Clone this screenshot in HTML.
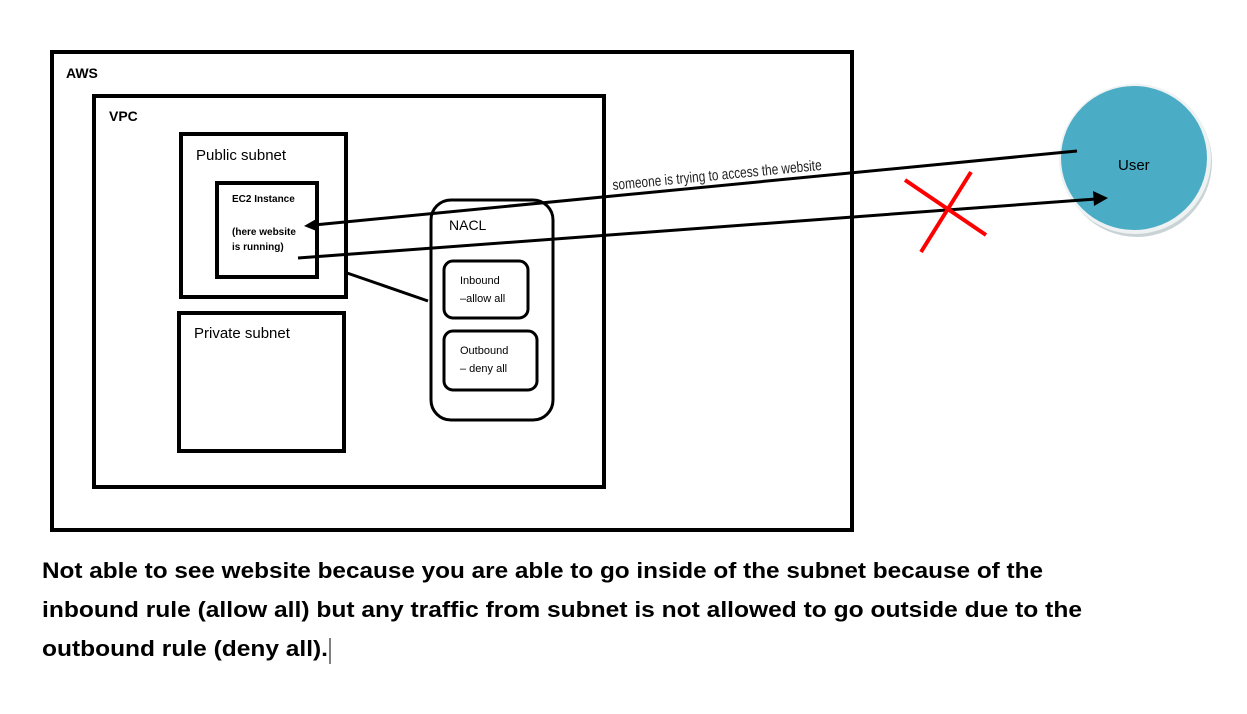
<!DOCTYPE html>
<html><head><meta charset="utf-8"><style>
html,body{margin:0;padding:0;background:#fff;}
svg{display:block;}
text{font-family:"Liberation Sans",sans-serif;}
</style></head><body>
<svg width="1247" height="714" viewBox="0 0 1247 714" xmlns="http://www.w3.org/2000/svg">
<rect x="0" y="0" width="1247" height="714" fill="#fff"/>
<!-- AWS -->
<rect x="52" y="52" width="800" height="478" fill="none" stroke="#000" stroke-width="4"/>
<text x="66" y="78" font-size="14" font-weight="bold">AWS</text>
<!-- VPC -->
<rect x="94" y="96" width="510" height="391" fill="none" stroke="#000" stroke-width="4"/>
<text x="109" y="121" font-size="14" font-weight="bold">VPC</text>
<!-- Public subnet -->
<rect x="181" y="134" width="165" height="163" fill="none" stroke="#000" stroke-width="4"/>
<text x="196" y="160" font-size="15">Public subnet</text>
<!-- EC2 -->
<rect x="217" y="183" width="100" height="94" fill="none" stroke="#000" stroke-width="4"/>
<text x="232" y="202" font-size="10" font-weight="bold">EC2 Instance</text>
<text x="232" y="235" font-size="10" font-weight="bold">(here website</text>
<text x="232" y="250" font-size="10" font-weight="bold">is running)</text>
<!-- Private subnet -->
<rect x="179" y="313" width="165" height="138" fill="none" stroke="#000" stroke-width="4"/>
<text x="194" y="338" font-size="15">Private subnet</text>
<!-- NACL -->
<rect x="431" y="200" width="122" height="220" rx="20" ry="20" fill="none" stroke="#000" stroke-width="3"/>
<text x="449" y="230" font-size="14">NACL</text>
<rect x="444" y="261" width="84" height="57" rx="9" fill="none" stroke="#000" stroke-width="3"/>
<text x="460" y="284" font-size="11">Inbound</text>
<text x="460" y="302" font-size="11">–allow all</text>
<rect x="444" y="331" width="93" height="59" rx="9" fill="none" stroke="#000" stroke-width="3"/>
<text x="460" y="354" font-size="11">Outbound</text>
<text x="460" y="372" font-size="11">– deny all</text>
<!-- connector -->
<line x1="347" y1="273" x2="428" y2="301" stroke="#000" stroke-width="3"/>
<!-- User circle -->
<ellipse cx="1137" cy="162" rx="75" ry="75" fill="#c9d3d6"/>
<ellipse cx="1135" cy="159" rx="76" ry="75" fill="#eef2f3"/>
<ellipse cx="1134" cy="158" rx="73" ry="72" fill="#4BACC6"/>
<text x="1118" y="170" font-size="15">User</text>
<!-- arrows -->
<line x1="1077" y1="151" x2="314" y2="225" stroke="#000" stroke-width="3"/>
<polygon points="304,226 318,218 319,232" fill="#000"/>
<line x1="298" y1="258" x2="1096" y2="199" stroke="#000" stroke-width="3"/>
<polygon points="1108,198 1093,191 1094,206" fill="#000"/>
<!-- label -->
<text x="613" y="190" font-size="15" transform="rotate(-5.5 613 190)" textLength="210" lengthAdjust="spacingAndGlyphs" fill="#222">someone is trying to access the website</text>
<!-- red X -->
<line x1="905" y1="180" x2="986" y2="235" stroke="#f00" stroke-width="4"/>
<line x1="971" y1="172" x2="921" y2="252" stroke="#f00" stroke-width="4"/>
<!-- bottom text -->
<text x="42" y="578" font-size="22" font-weight="bold" textLength="1001" lengthAdjust="spacingAndGlyphs">Not able to see website because you are able to go inside of the subnet because of the</text>
<text x="42" y="617" font-size="22" font-weight="bold" textLength="1040" lengthAdjust="spacingAndGlyphs">inbound rule (allow all) but any traffic from subnet is not allowed to go outside due to the</text>
<text x="42" y="656" font-size="22" font-weight="bold" textLength="286" lengthAdjust="spacingAndGlyphs">outbound rule (deny all).</text>
<line x1="330" y1="638" x2="330" y2="664" stroke="#000" stroke-width="1"/>
</svg>
</body></html>
